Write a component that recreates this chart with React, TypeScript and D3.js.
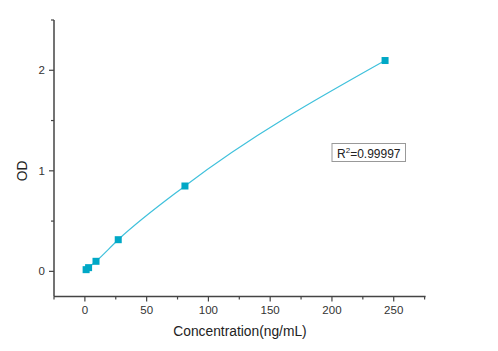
import { useEffect, useRef } from "react";
import * as d3 from "d3";

// standard curve points
const concentration = [1, 3, 9, 27, 81, 243];
const od = [0.017, 0.037, 0.1, 0.315, 0.849, 2.097];
const xTicks = [0, 50, 100, 150, 200, 250];
const xMinor = [-25, 25, 75, 125, 175, 225, 275];
const yTicks = [0, 1, 2];
const yMinor = [0.5, 1.5, 2.5];
const r2Label = "0.99997";

export default function App() {
  const ref = useRef<HTMLDivElement>(null);

  useEffect(() => {
    const width = 498;
    const height = 351;
    const axisColor = "#444";
    const textColor = "#333";

    const x = d3.scaleLinear().domain([-25, 275]).range([54, 424.6]);
    const y = d3.scaleLinear().domain([-0.25, 2.5]).range([296.5, 20]);

    const svg = d3
      .select(ref.current)
      .append("svg")
      .attr("width", width)
      .attr("height", height)
      .style("position", "absolute")
      .style("left", 0)
      .style("top", 0)
      .style("font-family", "Arial, 'Liberation Sans', sans-serif");

    // x axis
    const xg = svg.append("g").attr("transform", `translate(0,${y(-0.25)})`);
    xg.append("line")
      .attr("x1", x(-25)).attr("x2", x(275) + 1)
      .attr("stroke", axisColor).attr("stroke-width", 1.5);
    xg.selectAll("line.major").data(xTicks).join("line")
      .attr("class", "major")
      .attr("x1", (d) => x(d)).attr("x2", (d) => x(d))
      .attr("y1", 0).attr("y2", 5)
      .attr("stroke", axisColor).attr("stroke-width", 1.2);
    xg.selectAll("line.minor").data(xMinor).join("line")
      .attr("class", "minor")
      .attr("x1", (d) => x(d)).attr("x2", (d) => x(d))
      .attr("y1", 0).attr("y2", 3)
      .attr("stroke", axisColor).attr("stroke-width", 1.2);
    xg.selectAll("text").data(xTicks).join("text")
      .attr("x", (d) => x(d)).attr("y", 17)
      .attr("text-anchor", "middle")
      .attr("font-size", 11.5)
      .attr("fill", textColor)
      .text((d) => d);

    // y axis
    const yg = svg.append("g").attr("transform", `translate(${x(-25)},0)`);
    yg.append("line")
      .attr("y1", y(-0.25)).attr("y2", y(2.5))
      .attr("stroke", axisColor).attr("stroke-width", 1.5);
    yg.selectAll("line.major").data(yTicks).join("line")
      .attr("class", "major")
      .attr("y1", (d) => y(d)).attr("y2", (d) => y(d))
      .attr("x1", 0).attr("x2", -5)
      .attr("stroke", axisColor).attr("stroke-width", 1.2);
    yg.selectAll("line.minor").data(yMinor).join("line")
      .attr("class", "minor")
      .attr("y1", (d) => y(d)).attr("y2", (d) => y(d))
      .attr("x1", 0).attr("x2", -3)
      .attr("stroke", axisColor).attr("stroke-width", 1.2);
    yg.selectAll("text").data(yTicks).join("text")
      .attr("x", -9).attr("y", (d) => y(d) + 4)
      .attr("text-anchor", "end")
      .attr("font-size", 11.5)
      .attr("fill", textColor)
      .text((d) => d);

    // axis titles
    svg.append("text")
      .attr("x", 240).attr("y", 336)
      .attr("text-anchor", "middle")
      .attr("font-size", 13.8)
      .attr("fill", "#222")
      .text("Concentration(ng/mL)");
    svg.append("text")
      .attr("transform", `translate(27,${y(1)}) rotate(-90)`)
      .attr("text-anchor", "middle")
      .attr("font-size", 13.8)
      .attr("fill", "#222")
      .text("OD");

    const pts = concentration.map((c, i) => [c, od[i]] as [number, number]);

    // fit curve
    const line = d3.line<[number, number]>()
      .x((d) => x(d[0]))
      .y((d) => y(d[1]))
      .curve(d3.curveMonotoneX);
    svg.append("path")
      .datum(pts)
      .attr("d", line)
      .attr("fill", "none")
      .attr("stroke", "#3fc1dc")
      .attr("stroke-width", 1.2);

    // markers
    svg.append("g").selectAll("rect").data(pts).join("rect")
      .attr("x", (d) => x(d[0]) - 3.5)
      .attr("y", (d) => y(d[1]) - 3.5)
      .attr("width", 7).attr("height", 7)
      .attr("fill", "#00a8c6");

    // R² box
    const box = svg.append("g").attr("transform", "translate(332,143.5)");
    box.append("rect")
      .attr("width", 73.5).attr("height", 18)
      .attr("fill", "white")
      .attr("stroke", "#999").attr("stroke-width", 1);
    const t = box.append("text")
      .attr("x", 5).attr("y", 14)
      .attr("font-size", 12)
      .attr("fill", "#222");
    t.append("tspan").text("R");
    t.append("tspan").attr("font-size", 8).attr("dy", -5).text("2");
    t.append("tspan").attr("dy", 5).text("=" + r2Label);

    return () => {
      d3.select(ref.current).selectAll("*").remove();
    };
  }, []);

  return <div ref={ref} />;
}
